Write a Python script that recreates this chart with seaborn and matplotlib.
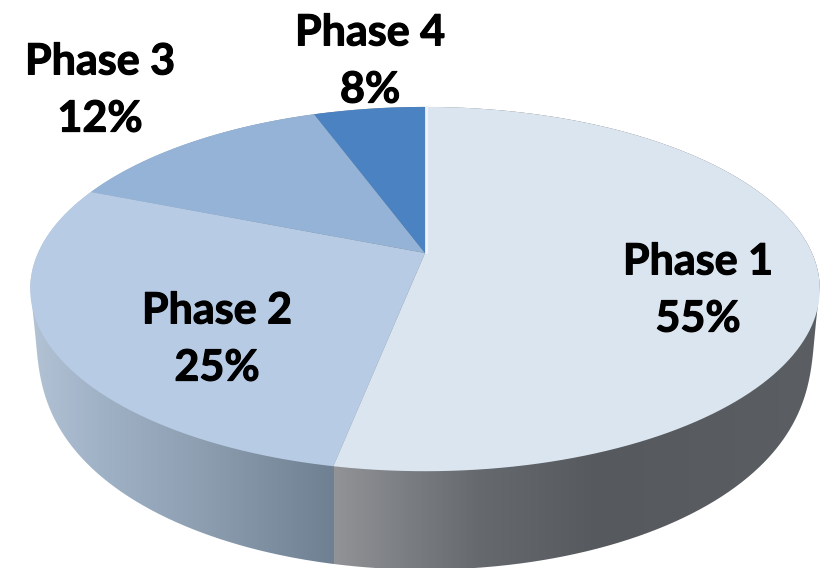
import numpy as np
import matplotlib
matplotlib.use("Agg")
import matplotlib.pyplot as plt
import matplotlib.patheffects as pe
import seaborn as sns
from matplotlib.path import Path
from matplotlib.patches import PathPatch
from matplotlib.transforms import Transform

phases = ["Phase 1", "Phase 2", "Phase 3", "Phase 4"]
shares = [55, 25, 12, 8]
share_labels = ["55%", "25%", "12%", "8%"]
slice_colors = ["#dbe5f0", "#b7cce4", "#95b3d7", "#4a82c2"]
label_centres = [(698, 290), (217, 339), (100, 90), (370, 61)]

# Look of the tilted disc, in pixels of the output image
CX, CY, RX = 425.0, 253.0, 387.0
RY, TILT = 175.0, 0.198
DEPTH, BOTTOM_SCALE = 105.0, 0.97
# The reference's 3-D rendering bends angles: true clockwise angle -> drawn angle
WARP_IN = [0, 198, 288, 331, 360]
WARP_OUT = [0, 191, 292, 340, 360]
RIM_X_BACK = [30, 100, 200, 334]
RIM_BACK = ["#b4c3d6", "#a0b2c6", "#8e9fb2", "#6f8093"]
RIM_X_FRONT = [336, 400, 480, 600, 825]
RIM_FRONT = ["#929397", "#7d8084", "#666a6e", "#56595d", "#5b5f63"]


class Tilt(Transform):
    input_dims = output_dims = 2

    def transform_non_affine(self, values):
        v = np.asarray(values, dtype=float)
        r = np.hypot(v[:, 0], v[:, 1])
        clock = (90 - np.degrees(np.arctan2(v[:, 1], v[:, 0]))) % 360
        a = np.radians(90 - np.interp(clock, WARP_IN, WARP_OUT))
        x, y = r * np.cos(a), r * np.sin(a)
        d = 1 + TILT * y
        return np.column_stack([CX + RX * x / d, CY - RY * y / d])

    def transform_path_non_affine(self, path):
        flat = Path(path.vertices * 2000, path.codes).to_polygons(closed_only=False)[0]
        return Path(self.transform_non_affine(flat / 2000))


sns.set_theme(style="white")
plt.rcParams["font.family"] = ["Lato", "DejaVu Sans"]

fig = plt.figure(figsize=(8.29, 5.68), dpi=100)
ax = fig.add_axes([0, 0, 1, 1])

palette = sns.color_palette(slice_colors)
wedges, _ = ax.pie(shares, colors=palette, startangle=90, counterclock=False,
                   frame=True, wedgeprops={"linewidth": 0})
tilt = Tilt()
for w in wedges:
    w.set_transform(tilt + ax.transData)
    w.set_zorder(3)

# Rim below the disc: its lower outline tapers into the disc at both sides
t = np.linspace(0, 2 * np.pi, 1441)
edge = tilt.transform_non_affine(np.column_stack([np.cos(t), np.sin(t)]))
base = np.column_stack([CX + BOTTOM_SCALE * (edge[:, 0] - CX),
                        CY + DEPTH + BOTTOM_SCALE * (edge[:, 1] - CY)])
y_side = CY + 35
u = np.clip((edge[:, 1] - y_side) / (edge[:, 1].max() - y_side), 0, 1)
outline = edge + (u ** 0.2)[:, None] * (base - edge)
seam_angle = np.radians(90 - shares[0] * 3.6)
seam = tilt.transform_non_affine(np.array([[np.cos(seam_angle), np.sin(seam_angle)]]))[0, 0]
xs = np.arange(0, 830)
shift = seam - 335


def ramp(stops_x, stops_c):
    rgb = np.array([matplotlib.colors.to_rgb(c) for c in stops_c])
    return np.column_stack([np.interp(xs, np.array(stops_x) + shift, rgb[:, i]) for i in range(3)])


back, front = ramp(RIM_X_BACK, RIM_BACK), ramp(RIM_X_FRONT, RIM_FRONT)
grad = np.where((xs < seam)[:, None], back, front)[None, :, :]
im = ax.imshow(grad, extent=(0, 830, 568, 0), aspect="auto", zorder=1, interpolation="nearest")
patch = PathPatch(Path(outline), transform=ax.transData, facecolor="none", edgecolor="none")
ax.add_patch(patch)
im.set_clip_path(patch)
ax.set_xlim(0, 829)
ax.set_ylim(568, 0)
ax.axis("off")

# Pale seam between the last and first slices
ax.plot([CX + 2, CX + 2], [107, CY], color="#eef3f8", lw=1.6, zorder=4)

for name, pct, (x, y) in zip(phases, share_labels, label_centres):
    ax.text(x, y, f"{name}\n{pct}", ha="center", va="center", fontsize=31,
            fontweight="bold", color="black", linespacing=1.52, zorder=5,
            path_effects=[pe.withStroke(linewidth=0.8, foreground="black")])

fig.savefig("out.png", dpi=100)
